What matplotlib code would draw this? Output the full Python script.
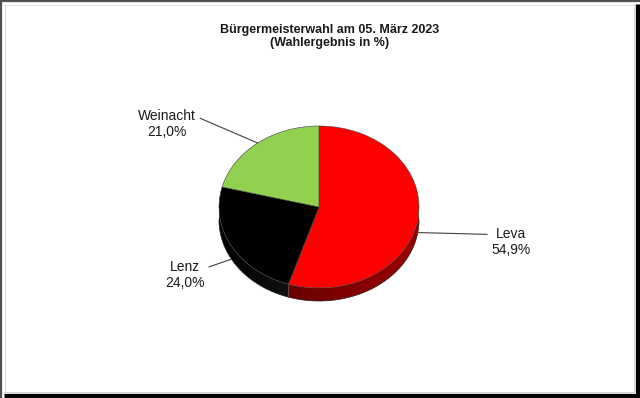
import matplotlib.pyplot as plt
import numpy as np
import matplotlib.colors as mcolors
from matplotlib.patches import Polygon
from matplotlib.lines import Line2D

plt.rcParams["font.family"] = ["Liberation Sans", "DejaVu Sans"]

candidates = ["Leva", "Lenz", "Weinacht"]
shares = [54.9, 24.0, 21.0]
share_labels = ["54,9%", "24,0%", "21,0%"]
colors = ["#ff0000", "#000000", "#92d050"]
side_colors = [("#6a0000", "#9c0000"), ("#000000", "#101010"), ("#4d6b28", "#7fb543")]

W, H = 640, 398
CX, CY = 319, 207      # pie centre, pixels from top-left
RX, RY = 100, 81       # pixel radii of the tilted pie
DEPTH = 13 / RY        # side height in data units


def px(x, y):
    # pixel position (from top-left) -> data coords
    return (x - CX) / RX, (CY - y) / RY


fig = plt.figure(figsize=(W / 100, H / 100), dpi=100)
fig.patch.set_facecolor("white")
ax = fig.add_axes([0, 0, 1, 1])
wedges, _ = ax.pie(
    shares,
    colors=colors,
    startangle=90,
    counterclock=False,
    radius=1,
    frame=False,
    wedgeprops=dict(edgecolor="#404040", linewidth=0.4, zorder=3),
)
ax.set_aspect("auto")
xlim = (-CX / RX, (W - CX) / RX)
ylim = (-(H - CY) / RY, CY / RY)

# 3d side of the pie, only the lower half is visible
lower = [(-540, -360), (-180, 0), (180, 360)]
for w, (c0, c1) in zip(wedges, side_colors):
    c0, c1 = np.array(mcolors.to_rgb(c0)), np.array(mcolors.to_rgb(c1))
    for lo, hi in lower:
        a, b = max(w.theta1, lo), min(w.theta2, hi)
        if a >= b:
            continue
        th = np.radians(np.linspace(a, b, 120))
        xs, ys = np.cos(th), np.sin(th)
        pts = np.column_stack([np.r_[xs, xs[::-1]], np.r_[ys, ys[::-1] - DEPTH]])
        side = Polygon(pts, closed=True, facecolor="none", edgecolor="none", zorder=2)
        ax.add_patch(side)
        # horizontal shading across the side
        t = np.clip((np.linspace(-1, 1, 200) - xs.min()) / max(np.ptp(xs), 1e-6), 0, 1)
        grad = c0[None, :] + (c1 - c0)[None, :] * t[:, None]
        img = ax.imshow(grad[None, :, :], extent=(-1, 1, -1 - DEPTH, 0),
                        aspect="auto", interpolation="bilinear", zorder=2)
        img.set_clip_path(side)
        ax.plot(xs, ys - DEPTH, color="#202020", lw=0.5, zorder=2.5)

ax.set_xlim(*xlim)
ax.set_ylim(*ylim)
ax.axis("off")

# labels with leader lines
text_pos = {"Leva": (511, 242), "Lenz": (185, 275), "Weinacht": (167, 124)}
rel = {"Leva": (0.0, 0.75), "Lenz": (1.0, 0.72), "Weinacht": (1.0, 0.75)}
for w, name, lab in zip(wedges, candidates, share_labels):
    mid = np.radians((w.theta1 + w.theta2) / 2)
    ax_, ay_ = np.cos(mid), np.sin(mid)
    if ay_ < 0:
        ay_ -= DEPTH
    ax.annotate(
        f"{name}\n{lab}",
        xy=(ax_, ay_),
        xytext=px(*text_pos[name]),
        ha="center",
        va="center",
        fontsize=10,
        color="#1a1a1a",
        linespacing=1.2,
        arrowprops=dict(arrowstyle="-", color="#404040", lw=0.8,
                        relpos=rel[name], shrinkA=1, shrinkB=0),
        zorder=4,
    )

fig.text(330 / W, 1 - 36.5 / H,
         "Bürgermeisterwahl am 05. März 2023\n(Wahlergebnis in %)",
         ha="center", va="center", fontsize=9, fontweight="bold",
         linespacing=1.2, color="#1a1a1a")


# frame with shadow, like the exported chart
def fline(x0, y0, x1, y1, color, lw):
    fig.add_artist(Line2D([x0 / W, x1 / W], [1 - y0 / H, 1 - y1 / H],
                          color=color, lw=lw, solid_capstyle="butt"))


fline(0, 1, W, 1, "#505050", 1.6)
fline(1, 0, 1, H, "#505050", 1.6)
fline(W - 2.5, 4, W - 2.5, H, "#000000", 3.8)
fline(4, H - 2.5, W, H - 2.5, "#000000", 3.8)
fline(5, 4.5, W - 6, 4.5, "#dddddd", 0.6)
fline(4.5, 4, 4.5, H - 6, "#dddddd", 0.6)
fline(W - 6, 4, W - 6, H - 6, "#cccccc", 0.6)
fline(4, H - 6, W - 6, H - 6, "#cccccc", 0.6)

fig.savefig("out.png", dpi=100)
